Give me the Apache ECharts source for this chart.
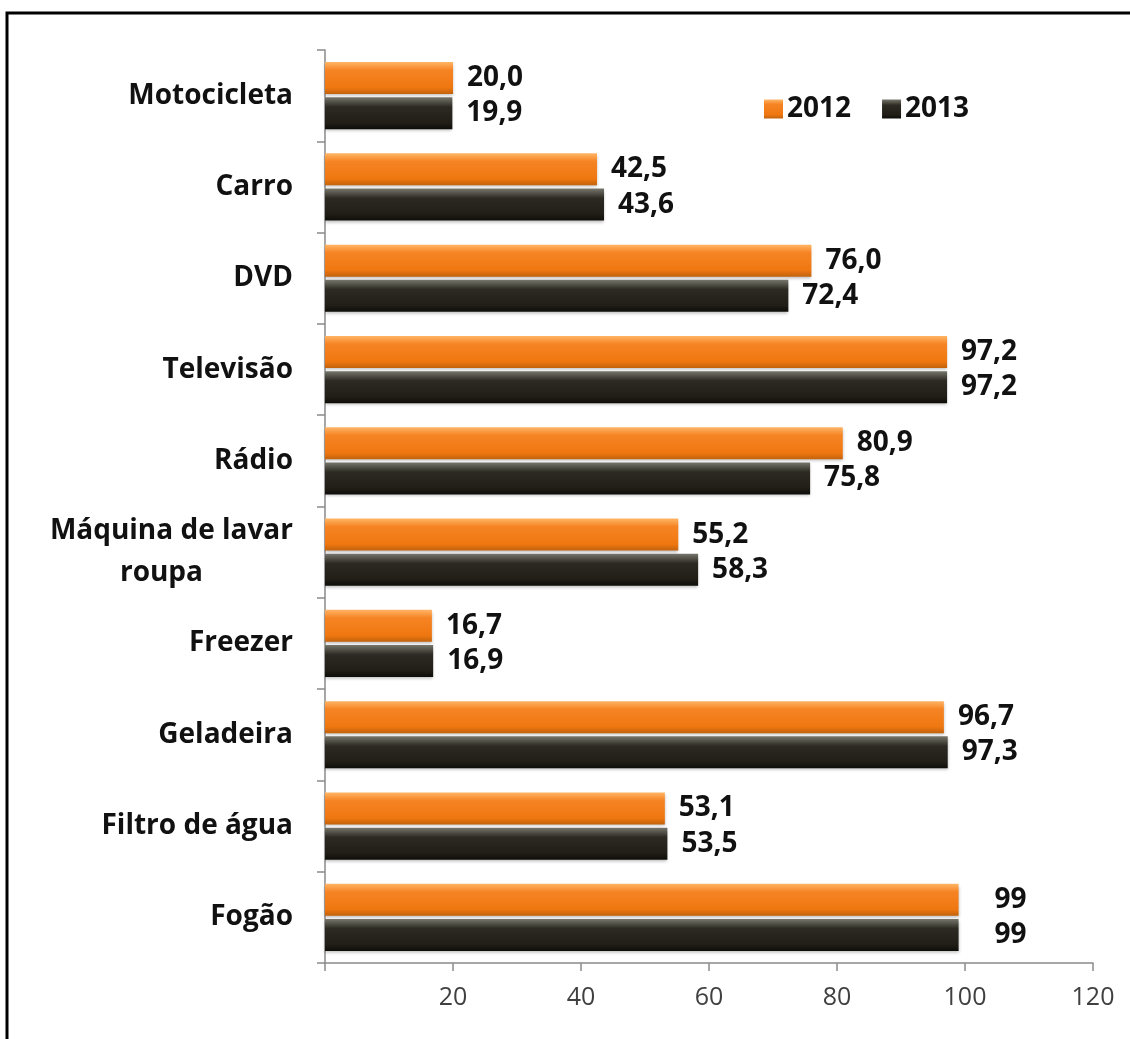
<!DOCTYPE html>
<html>
<head>
    <meta charset="utf-8">
    <title>Bens duráveis 2012 x 2013</title>
    <script type="text/javascript" src="https://cdn.jsdelivr.net/npm/echarts@6/dist/echarts.min.js"></script>
    <style>
        body {
            margin: 0px;
            padding: 0px;
            background: #fff;
        }
        #grafico {
            width: 1130px;
            height: 1039px;
        }
    </style>
</head>
<body>
<div id="grafico"></div>
<script type="text/javascript">
    // categorias de cima para baixo
    var categorias = ['Motocicleta', 'Carro', 'DVD', 'Televisão', 'Rádio',
        'Máquina de lavar\nroupa', 'Freezer', 'Geladeira', 'Filtro de água', 'Fogão'];
    var anos = ['2012', '2013'];
    var valores2012 = [20.0, 42.5, 76.0, 97.2, 80.9, 55.2, 16.7, 96.7, 53.1, 99];
    var valores2013 = [19.9, 43.6, 72.4, 97.2, 75.8, 58.3, 16.9, 97.3, 53.5, 99];
    var rotulos2012 = ['20,0', '42,5', '76,0', '97,2', '80,9', '55,2', '16,7', '96,7', '53,1', '99'];
    var rotulos2013 = ['19,9', '43,6', '72,4', '97,2', '75,8', '58,3', '16,9', '97,3', '53,5', '99'];

    var fonte = '"Open Sans", "DejaVu Sans", sans-serif';

    var corLaranja = new echarts.graphic.LinearGradient(0, 0, 0, 1, [
        {offset: 0, color: '#ffb566'},
        {offset: 0.25, color: '#f68424'},
        {offset: 0.8, color: '#ef7710'},
        {offset: 1, color: '#c2620c'}
    ]);
    var corPreta = new echarts.graphic.LinearGradient(0, 0, 0, 1, [
        {offset: 0, color: '#77766c'},
        {offset: 0.3, color: '#2c2a22'},
        {offset: 0.8, color: '#201e16'},
        {offset: 1, color: '#0e0d09'}
    ]);

    function montaDados(valores, rotulos) {
        var dados = [];
        for (var i = 0; i < valores.length; i++) {
            var item = {value: valores[i], rotulo: rotulos[i]};
            // o "99" do Fogão fica mais afastado da barra
            if (rotulos[i] === '99') {
                item.label = {offset: [22, 0]};
            }
            dados.push(item);
        }
        return dados;
    }

    function serie(nome, valores, rotulos, cor) {
        return {
            name: nome,
            type: 'bar',
            barWidth: 32,
            barGap: '10%',
            data: montaDados(valores, rotulos),
            itemStyle: {
                color: cor,
                shadowColor: 'rgba(0,0,0,0.25)',
                shadowBlur: 3,
                shadowOffsetY: 2
            },
            label: {
                show: true,
                position: 'right',
                distance: 14,
                color: '#111',
                fontFamily: fonte,
                fontWeight: 'bold',
                fontSize: 28,
                formatter: function (p) { return p.data.rotulo; }
            }
        };
    }

    var chart = echarts.init(document.getElementById('grafico'));
    var option = {
        animation: false,
        backgroundColor: '#fff',
        graphic: [{
            type: 'rect',
            shape: {x: 7, y: 13, width: 1200, height: 1100},
            style: {fill: 'none', stroke: '#000', lineWidth: 3}
        }],
        legend: {
            data: anos,
            left: 759,
            top: 90,
            itemWidth: 19,
            itemHeight: 19,
            itemGap: 31,
            icon: 'rect',
            textStyle: {
                color: '#111',
                fontFamily: fonte,
                fontWeight: 'bold',
                fontSize: 28,
                padding: [0, 0, 0, -1]
            }
        },
        grid: {
            left: 325,
            right: 37,
            top: 50,
            bottom: 76,
            containLabel: false
        },
        xAxis: {
            type: 'value',
            min: 0,
            max: 120,
            interval: 20,
            splitLine: {show: false},
            axisLine: {show: true, lineStyle: {color: '#8a8a8a', width: 1.5}},
            axisTick: {show: true, length: 8, lineStyle: {color: '#8a8a8a', width: 1.5}},
            axisLabel: {
                margin: 22,
                color: '#404040',
                fontFamily: fonte,
                fontSize: 25,
                formatter: function (v) { return v === 0 ? '' : v; }
            }
        },
        yAxis: {
            type: 'category',
            data: categorias,
            inverse: true,
            axisLine: {show: true, lineStyle: {color: '#8a8a8a', width: 1.5}},
            axisTick: {show: true, length: 8, lineStyle: {color: '#8a8a8a', width: 1.5}},
            axisLabel: {
                margin: 32,
                color: '#111',
                fontFamily: fonte,
                fontWeight: 'bold',
                fontSize: 28,
                lineHeight: 42,
                formatter: function (v) {
                    if (v.indexOf('\n') >= 0) {
                        var partes = v.split('\n');
                        return '{a|' + partes[0] + '}\n{b|' + partes[1] + '}';
                    }
                    return v;
                },
                rich: {
                    a: {fontFamily: fonte, fontWeight: 'bold', fontSize: 28, color: '#111', lineHeight: 42},
                    b: {fontFamily: fonte, fontWeight: 'bold', fontSize: 28, color: '#111', lineHeight: 42, padding: [0, 90, 0, 0]}
                }
            }
        },
        series: [
            serie(anos[0], valores2012, rotulos2012, corLaranja),
            serie(anos[1], valores2013, rotulos2013, corPreta)
        ]
    };
    chart.setOption(option);
</script>
</body>
</html>
